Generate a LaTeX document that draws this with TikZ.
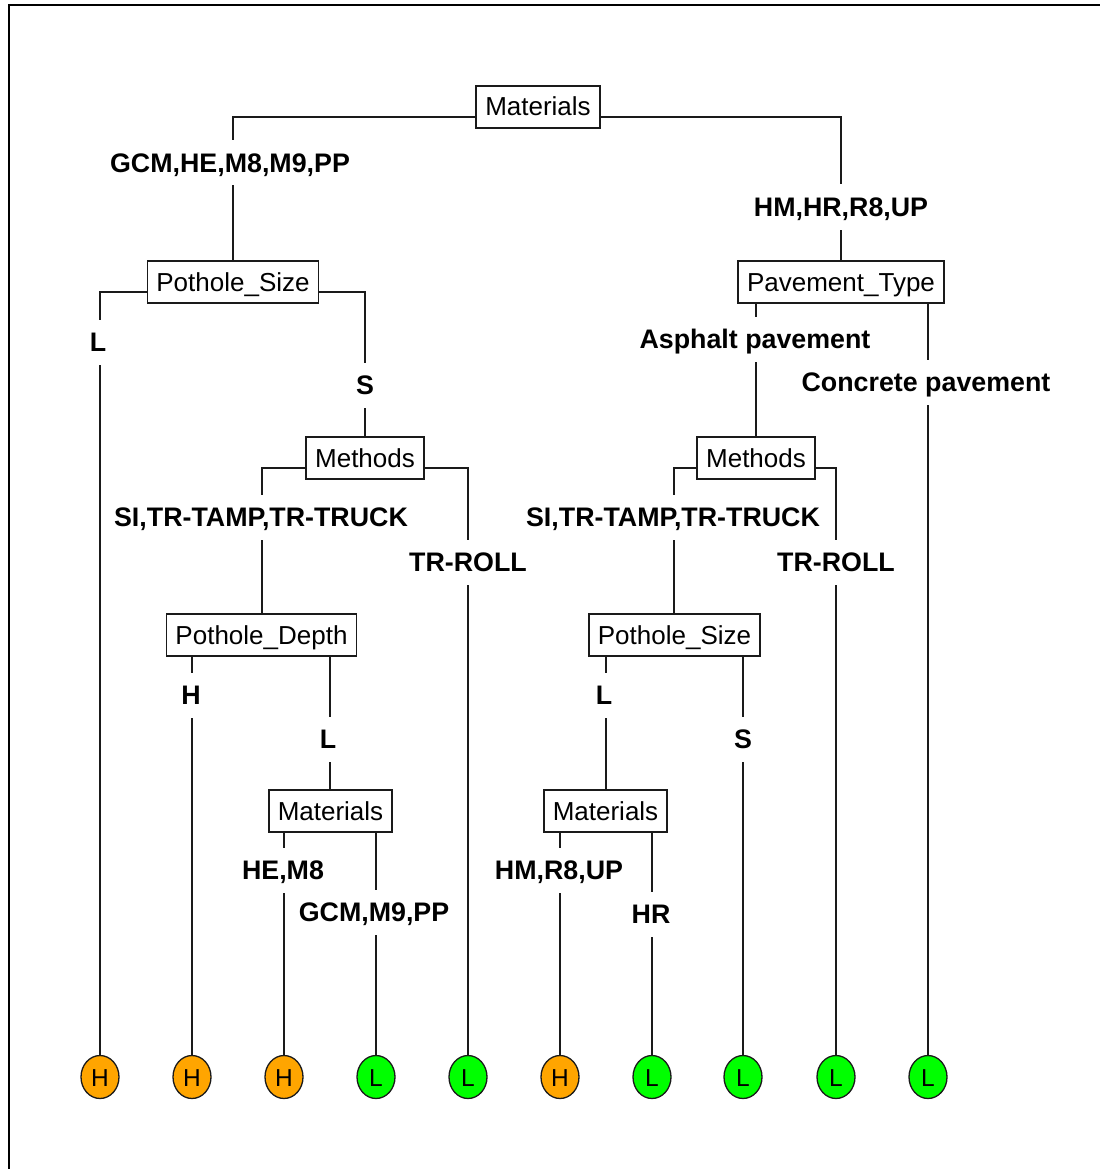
\documentclass[tikz,border=0pt]{standalone}
\usepackage{fontspec}
\setmainfont{Liberation Sans}
\usetikzlibrary{shapes.geometric,calc,backgrounds}
\definecolor{leafH}{HTML}{FFA500}
\definecolor{leafL}{HTML}{00FF00}
\definecolor{ink}{HTML}{1A1A1A}
\begin{document}
\begin{tikzpicture}[x=1pt,y=-1pt,
  splitbox/.style={draw=ink,line width=1.6pt,fill=white,inner xsep=9pt,inner ysep=0pt,
    minimum height=42pt,text height=18pt,text depth=0pt,font=\fontsize{26}{26}\selectfont},
  leafnode/.style={ellipse,draw=ink,line width=1.3pt,minimum width=38pt,minimum height=43pt,
    inner sep=0pt,text height=18pt,text depth=0pt,font=\fontsize{24.5}{24.5}\selectfont},
  hleaf/.style={leafnode,fill=leafH},
  lleaf/.style={leafnode,fill=leafL},
  elab/.style={fill=white,inner xsep=2pt,inner ysep=13pt,text height=19pt,text depth=0pt,
    font=\fontsize{26.8}{26.8}\selectfont\bfseries},
  edge/.style={draw=ink,line width=1.5pt}]
\useasboundingbox (0,0) rectangle (1100,1169);
% frame
\draw[line width=2.2pt,black] (9,1169) -- (9,5) -- (1100,5);

% split nodes
\node[splitbox] (m1)  at (538,107) {Materials};
\node[splitbox] (ps1) at (233,282) {Pothole\_Size};
\node[splitbox] (pt)  at (841,282) {Pavement\_Type};
\node[splitbox] (me1) at (365,458) {Methods};
\node[splitbox] (me2) at (756,458) {Methods};
\node[splitbox] (pd)  at (261.5,635) {Pothole\_Depth};
\node[splitbox] (ps2) at (674.5,635) {Pothole\_Size};
\node[splitbox] (ma1) at (330.5,811) {Materials};
\node[splitbox] (ma2) at (605.5,811) {Materials};

% leaves
\node[hleaf] (l1)  at (100,1077) {H};
\node[hleaf] (l2)  at (192,1077) {H};
\node[hleaf] (l3)  at (284,1077) {H};
\node[lleaf] (l4)  at (376,1077) {L};
\node[lleaf] (l5)  at (468,1077) {L};
\node[hleaf] (l6)  at (560,1077) {H};
\node[lleaf] (l7)  at (652,1077) {L};
\node[lleaf] (l8)  at (743,1077) {L};
\node[lleaf] (l9)  at (836,1077) {L};
\node[lleaf] (l10) at (928,1077) {L};

% edges
\begin{scope}[on background layer]
\draw[edge] ($(m1.center)+(0,10)$) -| (ps1.north);
\draw[edge] ($(m1.center)+(0,10)$) -| (pt.north);
\draw[edge] ($(ps1.center)+(0,10)$) -| (l1.north);
\draw[edge] ($(ps1.center)+(0,10)$) -| (me1.north);
\draw[edge] ($(me1.center)+(0,10)$) -| ($(pd.north)+(0.5,0)$);
\draw[edge] ($(me1.center)+(0,10)$) -| (l5.north);
\draw[edge] ($(pd.center)+(0,10)$) -| (l2.north);
\draw[edge] ($(pd.center)+(0,10)$) -| ($(ma1.north)+(-0.5,0)$);
\draw[edge] ($(ma1.center)+(0,10)$) -| (l3.north);
\draw[edge] ($(ma1.center)+(0,10)$) -| (l4.north);
\draw[edge] ($(pt.center)+(0,10)$) -| (me2.north);
\draw[edge] ($(pt.center)+(0,10)$) -| (l10.north);
\draw[edge] ($(me2.center)+(0,10)$) -| ($(ps2.north)+(-0.5,0)$);
\draw[edge] ($(me2.center)+(0,10)$) -| (l9.north);
\draw[edge] ($(ps2.center)+(0,10)$) -| ($(ma2.north)+(0.5,0)$);
\draw[edge] ($(ps2.center)+(0,10)$) -| (l8.north);
\draw[edge] ($(ma2.center)+(0,10)$) -| (l6.north);
\draw[edge] ($(ma2.center)+(0,10)$) -| (l7.north);
\end{scope}

% edge labels
\node[elab] (e1)  at (230,163) {GCM,HE,M8,M9,PP};
\node[elab] (e2)  at (841,207) {HM,HR,R8,UP};
\node[elab] (e3)  at (98,342)  {L};
\node[elab] (e4)  at (365,385) {S};
\node[elab] (e5)  at (261,517) {SI,TR-TAMP,TR-TRUCK};
\node[elab] (e6)  at (468,562) {TR-ROLL};
\node[elab] (e7)  at (191,695) {H};
\node[elab] (e8)  at (328,739) {L};
\node[elab] (e9)  at (283,870) {HE,M8};
\node[elab] (e10) at (374,912) {GCM,M9,PP};
\node[elab] (e11) at (755,339) {Asphalt pavement};
\node[elab] (e12) at (926,382) {Concrete pavement};
\node[elab] (e13) at (673,517) {SI,TR-TAMP,TR-TRUCK};
\node[elab] (e14) at (836,562) {TR-ROLL};
\node[elab] (e15) at (604,695) {L};
\node[elab] (e16) at (743,739) {S};
\node[elab] (e17) at (559,870) {HM,R8,UP};
\node[elab] (e18) at (651,914) {HR};
\end{tikzpicture}
\end{document}
